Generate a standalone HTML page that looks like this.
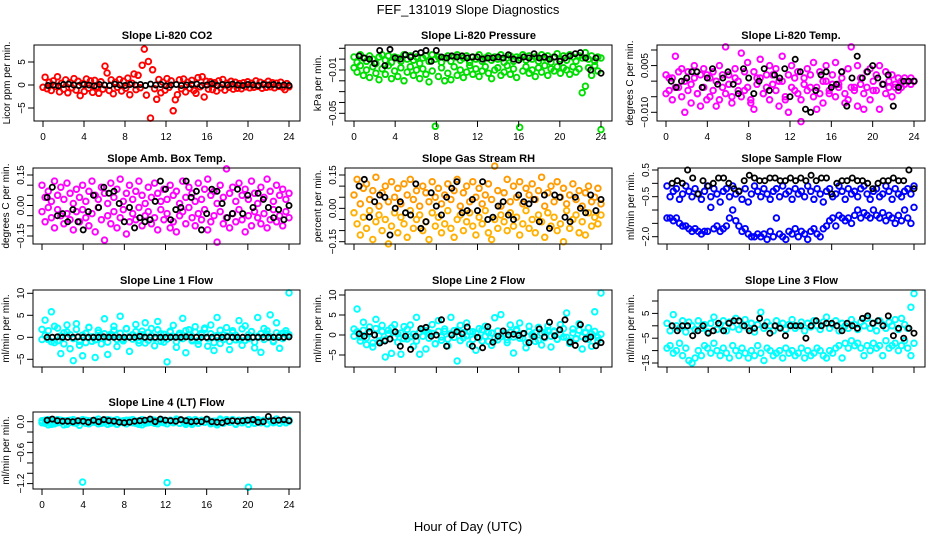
<!DOCTYPE html>
<html><head><meta charset="utf-8"><style>
html,body{margin:0;padding:0;background:#fff;}
svg{display:block;font-family:"Liberation Sans",sans-serif;}
</style></head><body>
<svg id="fig" width="936" height="540" viewBox="0 0 936 540">
<text x="468" y="14" text-anchor="middle" font-size="13">FEF_131019  Slope Diagnostics</text>
<text x="468" y="531" text-anchor="middle" font-size="13">Hour of Day (UTC)</text>
</svg>
<script>
// ---- data (hour-of-day series; colored = per-cycle slopes, black = reference) ----
const xTicks=[0,4,8,12,16,20,24];
const p1c=[-0.5,1.7,-0.8,0.6,-1.2,0.9,-0.3,1.8,-1.5,0.4,-0.9,1.1,-1.7,0.5,-0.6,1.4,-1.1,0.8,-2.3,0.3,-1.4,1.3,-0.7,0.9,-1.6,1.0,-0.4,-1.8,0.7,-0.9,4.1,2.6,-1.2,1.1,-1.9,0.6,-0.5,1.2,-1.3,0.8,-0.7,1.5,-2.1,0.4,2.4,-1.0,2.1,-0.6,4.3,7.8,-2.2,5.1,-7.2,3.3,-0.8,-3.1,1.2,-1.7,0.6,-1.1,1.4,-0.5,0.9,-5.6,-3.2,-2.1,1.1,-0.8,1.3,-1.5,0.6,-0.7,1.0,-1.2,-1.8,1.6,-0.4,1.8,-2.6,0.8,-0.9,0.7,-1.0,0.5,-1.3,0.9,-0.6,1.2,-1.1,0.4,-0.5,0.8,-0.9,0.6,-0.7,0.3,-0.8,0.5,-0.4,0.7,-0.6,0.4,-0.5,0.9,-0.3,0.6,-0.7,0.3,-0.5,0.8,-0.4,0.5,-0.6,0.4,-0.3,0.6,-0.5,-1.0,0.3,-0.4];
const p1k=[-0.1,0,-0.2,0.1,0.2,0,-0.1,0.1,0,-0.2,0.1,0,-0.1,0.2,0,-0.1,0.1,0,0.1,-0.1,0.2,0,0.1,-0.2,0,0.1,-0.1,0,0.1,0.2,-0.1,0,0.3,-0.1,0.1,0,0.2,0,-0.1,0.1,0,-0.1,0.1,0,0.1,-0.1,0,-0.1];
const p2a=[0.002,-0.003,0.004,0.001,-0.002,0.003,0.000,-0.004,0.002,0.004,-0.001,0.003,-0.003,0.002,0.001,-0.002,0.004,0.000,0.003,-0.001,0.002,-0.004,0.001,0.003,-0.002,0.004,0.000,0.002,-0.003,0.001,0.003,-0.002,0.002,0.004,-0.001,0.001,0.003,-0.003,0.002,0.000,0.004,-0.002,0.001,0.003,-0.001,0.002,0.000,0.004,-0.003,0.001,0.003,-0.002,0.002,0.001,0.004,-0.001,0.003,0.000,0.002,-0.002,0.004,0.001,0.003,-0.003,0.002,0.005,0.000,0.003,-0.001,0.004,0.002,-0.002,0.003,0.001,0.006,0.000,0.003,-0.002,0.002,0.001];
const p2b=[-0.008,-0.012,-0.006,-0.015,-0.010,-0.017,-0.007,-0.013,-0.019,-0.009,-0.014,-0.006,-0.018,-0.011,-0.016,-0.008,-0.020,-0.012,-0.007,-0.015,-0.010,-0.018,-0.009,-0.014,-0.021,-0.011,-0.062,-0.016,-0.008,-0.020,-0.013,-0.019,-0.007,-0.015,-0.010,-0.017,-0.012,-0.006,-0.014,-0.009,-0.016,-0.011,-0.007,-0.013,-0.018,-0.010,-0.008,-0.015,-0.012,-0.006,-0.014,-0.009,-0.017,-0.063,-0.011,-0.007,-0.013,-0.010,-0.016,-0.008,-0.012,-0.006,-0.015,-0.009,-0.011,-0.007,-0.013,-0.008,-0.010,-0.014,-0.007,-0.012,-0.009,-0.031,-0.025,-0.008,-0.015,-0.006,-0.011,-0.065];
const p2k=[0.003,0.001,0.000,-0.004,0.008,-0.006,0.009,0.001,0.000,0.004,0.002,0.005,0.006,0.008,-0.002,0.008,0.002,0.001,0.003,0.002,0.003,0.001,0.002,0.002,0.000,0.001,0.001,0.002,0.001,0.004,0.000,-0.001,0.002,0.001,0.005,0.001,0.002,0.000,0.002,-0.002,0.001,0.003,0.005,0.006,0.001,-0.010,0.001,-0.013];
const p3a=[0.002,-0.003,0.001,0.008,-0.002,0.004,-0.010,0.003,-0.001,0.005,-0.004,0.002,0.004,-0.006,0.001,0.003,-0.008,0.005,-0.002,0.011,0.002,-0.005,0.004,0.000,0.009,-0.003,0.006,-0.007,0.003,0.001,0.007,-0.004,0.002,0.005,-0.001,0.004,0.000,0.008,-0.006,0.002,0.005,-0.003,0.003,-0.013,0.001,0.004,-0.002,0.006,-0.009,0.003,0.000,0.005,-0.004,0.002,0.006,-0.001,0.003,-0.007,0.004,0.011,-0.002,0.005,0.001,-0.009,0.003,0.004,-0.003,0.002,0.005,-0.001,0.003,0.000,0.002,-0.002,0.001,0.000,0.001,0.000,0.001,0.000];
const p3b=[-0.004,0.001,-0.006,-0.002,0.003,-0.005,0.000,-0.003,-0.007,0.001,-0.004,-0.008,-0.002,0.002,-0.005,-0.003,0.000,-0.006,0.002,-0.004,-0.001,-0.007,0.001,-0.003,-0.005,0.003,-0.002,-0.006,-0.009,-0.001,0.001,-0.004,-0.002,-0.006,0.002,-0.003,-0.008,0.000,-0.005,-0.010,-0.002,0.001,-0.004,-0.006,-0.001,-0.003,0.002,-0.005,-0.002,-0.004,-0.007,0.000,-0.003,-0.001,-0.005,-0.002,0.001,-0.004,-0.006,-0.002,-0.003,-0.008,-0.001,-0.004,-0.002,-0.006,0.000,-0.003,-0.009,-0.001,-0.004,-0.002,-0.005,-0.001,-0.003,-0.002,-0.001,0.000,-0.001,0.000];
const p3k=[0.000,-0.002,0.000,0.001,0.003,0.003,-0.002,0.001,0.004,-0.001,0.001,0.003,-0.001,-0.004,0.004,0.001,-0.004,0.000,0.004,-0.003,0.002,0.001,0.004,-0.005,0.007,0.003,-0.009,-0.010,-0.003,0.002,0.003,-0.002,-0.001,0.003,-0.008,0.001,0.008,0.001,0.003,0.005,0.001,-0.001,0.002,-0.008,-0.002,0.000,0.000,0.000];
const p4a=[0.10,0.04,0.07,0.02,0.12,0.05,0.09,0.03,0.11,0.06,0.01,0.08,0.04,0.10,0.02,0.07,0.12,0.05,0.03,0.09,0.06,0.01,0.11,0.04,0.08,0.13,0.02,0.06,0.10,0.03,0.07,0.12,0.05,0.01,0.09,0.04,0.11,0.06,0.02,0.08,0.03,0.10,0.05,0.07,0.01,0.12,0.04,0.09,0.06,0.02,0.11,0.03,0.08,0.13,0.05,0.07,0.01,0.10,0.04,0.18,0.06,0.09,0.02,0.11,0.05,0.08,0.03,0.12,0.06,0.01,0.09,0.04,0.13,0.07,0.02,0.10,0.05,0.08,0.03,0.06];
const p4b=[-0.03,-0.08,-0.01,-0.06,-0.11,-0.02,-0.05,-0.09,-0.04,-0.07,-0.12,-0.03,-0.08,-0.02,-0.06,-0.10,-0.04,-0.13,-0.01,-0.07,-0.17,-0.05,-0.09,-0.03,-0.11,-0.06,-0.02,-0.14,-0.08,-0.04,-0.07,-0.01,-0.10,-0.05,-0.03,-0.09,-0.06,-0.12,-0.02,-0.07,-0.04,-0.11,-0.08,-0.13,-0.05,-0.03,-0.09,-0.01,-0.06,-0.10,-0.04,-0.07,-0.02,-0.12,-0.08,-0.05,-0.18,-0.03,-0.09,-0.06,-0.11,-0.04,-0.08,-0.02,-0.07,-0.13,-0.05,-0.10,-0.03,-0.06,-0.09,-0.04,-0.11,-0.07,-0.02,-0.08,-0.05,-0.10,-0.03,-0.06];
const p4k=[0.04,0.09,-0.05,-0.04,-0.08,-0.02,-0.08,-0.12,-0.03,0.05,-0.01,0.09,0.06,0.07,0.01,-0.08,-0.01,-0.11,-0.06,-0.08,-0.07,0.02,0.12,0.08,-0.07,-0.02,-0.01,0.12,0.04,0.07,-0.12,-0.04,0.08,0.07,0.01,-0.06,-0.04,0.08,-0.04,0.05,-0.01,0.06,0.03,-0.01,-0.06,-0.02,-0.07,0.00];
const p5a=[0.06,0.13,0.02,0.09,0.11,0.04,0.08,0.14,0.01,0.07,0.10,0.03,0.12,0.05,0.09,0.02,0.11,0.06,0.13,0.04,0.08,0.01,0.10,0.07,0.03,0.12,0.05,0.09,0.02,0.06,0.11,0.04,0.08,0.13,0.01,0.07,0.10,0.03,0.12,0.05,0.09,0.02,0.06,0.11,0.04,0.19,0.08,0.01,0.07,0.13,0.03,0.10,0.05,0.12,0.02,0.09,0.06,0.11,0.04,0.08,0.14,0.01,0.07,0.10,0.03,0.12,0.05,0.09,0.02,0.06,0.11,0.04,0.08,0.01,0.07,0.10,0.03,0.05,0.09,0.02];
const p5b=[-0.02,-0.07,-0.12,-0.04,-0.09,-0.01,-0.14,-0.06,-0.03,-0.10,-0.05,-0.16,-0.08,-0.02,-0.11,-0.04,-0.07,-0.13,-0.01,-0.09,-0.05,-0.03,-0.10,-0.06,-0.14,-0.02,-0.08,-0.04,-0.11,-0.07,-0.01,-0.09,-0.13,-0.05,-0.03,-0.10,-0.06,-0.02,-0.08,-0.12,-0.04,-0.07,-0.01,-0.11,-0.14,-0.05,-0.09,-0.03,-0.06,-0.10,-0.02,-0.08,-0.04,-0.12,-0.07,-0.01,-0.09,-0.05,-0.11,-0.03,-0.06,-0.13,-0.02,-0.08,-0.04,-0.10,-0.07,-0.15,-0.01,-0.09,-0.05,-0.03,-0.11,-0.06,-0.12,-0.02,-0.08,-0.04,-0.07,-0.03];
const p5k=[0.10,0.13,-0.04,0.03,0.06,0.05,-0.12,0.00,0.03,-0.02,-0.03,0.11,-0.09,-0.06,0.07,0.01,-0.03,0.05,0.09,0.12,-0.02,-0.01,0.04,-0.01,0.12,-0.05,-0.04,0.01,0.03,-0.03,-0.05,0.06,0.03,0.02,0.04,-0.06,0.06,-0.09,0.06,0.05,-0.04,-0.06,0.05,0.00,-0.02,0.06,-0.01,0.04];
const p6a=[-0.1,-0.5,-0.3,-0.2,-0.6,-0.4,-0.1,-0.3,-0.5,-0.2,-0.4,-0.6,-0.3,-0.1,-0.5,-0.2,-0.4,-0.7,-0.3,-0.2,-0.5,-0.1,-0.4,-0.3,-0.6,-0.2,-0.7,-0.4,-0.1,-0.3,-0.5,-0.2,-0.4,-0.6,-0.3,-0.2,-0.5,-0.1,-0.4,-0.3,-0.6,-0.2,-0.4,-0.3,-0.5,-0.1,-0.3,-0.6,-0.2,-0.4,-0.7,-0.3,-0.2,-0.5,-0.4,-0.1,-0.3,-0.6,-0.2,-0.4,-0.3,-0.5,-0.2,-0.1,-0.4,-0.6,-0.3,-0.2,-0.5,-0.4,-0.1,-0.3,-0.6,-0.2,-0.4,-0.5,-0.3,-0.2,-0.4,-0.1];
const p6b=[-1.3,-1.3,-1.4,-1.3,-1.5,-1.6,-1.6,-1.7,-1.8,-1.7,-1.8,-1.9,-1.8,-1.8,-0.9,-1.7,-1.6,-1.8,-1.7,-1.6,-1.3,-1.0,-1.4,-1.6,-1.8,-1.7,-1.9,-2.0,-2.0,-1.9,-2.0,-1.9,-2.1,-1.8,-2.0,-1.3,-1.9,-2.0,-2.1,-1.8,-1.9,-1.7,-2.0,-1.8,-1.9,-2.1,-1.8,-1.7,-1.9,-2.0,-1.7,-1.6,-1.4,-1.3,-1.6,-1.2,-1.3,-1.4,-1.3,-1.5,-1.2,-1.0,-1.3,-1.1,-1.2,-1.3,-1.0,-1.2,-1.3,-1.1,-1.4,-1.2,-1.3,-1.5,-1.2,-1.4,-1.0,-1.3,-1.5,-0.9];
const p6k=[0.0,0.1,0.0,0.5,0.2,-0.4,0.1,-0.1,0.0,0.2,0.2,0.0,-0.2,-0.3,0.1,0.3,0.2,0.1,0.1,0.2,0.2,0.1,0.1,0.2,0.1,0.2,0.1,0.3,0.1,0.2,0.2,-0.4,0.0,0.1,0.1,0.2,0.1,0.1,0.0,-0.2,0.0,0.1,0.1,0.2,0.1,0.1,0.5,-0.2];
const p7a=[1.8,3.9,-0.5,5.8,-1.2,2.1,-3.7,1.0,2.8,-2.6,-5.3,3.1,-1.8,-4.2,0.9,2.3,-0.9,-4.6,1.6,-1.5,4.2,-3.9,0.7,2.5,-2.1,4.8,-0.4,1.9,-3.2,0.6,2.9,-1.3,1.4,3.3,-0.7,2.0,-1.9,3.6,0.8,-1.1,-5.6,1.2,2.7,-2.3,0.5,4.3,-3.5,1.7,-0.8,2.4,-1.6,0.9,1.8,-2.0,2.8,-3.0,4.5,-1.4,0.6,2.2,-2.8,1.5,-0.6,3.8,-1.8,2.6,-0.3,1.3,-2.4,4.5,-3.4,2.0,0.7,5.1,-1.0,3.3,-2.5,0.9,1.5,10.1];
const p7b=[-0.5,0.4,1.5,-1.0,2.5,-0.8,0.3,-1.5,1.2,0.6,-0.3,1.8,-0.9,0.5,-1.2,2.2,0.1,-0.6,1.0,-0.2,0.8,-1.1,0.3,1.6,-0.5,0.9,-0.8,2.0,0.2,-0.4,1.3,-0.7,0.6,-1.3,1.1,0.4,-0.2,1.7,-0.9,0.7,-0.4,1.4,0.2,-1.0,0.9,-0.3,1.5,0.5,-0.6,1.2,-0.8,0.6,2.1,-0.2,0.8,-1.2,0.4,1.6,-0.5,0.3,-0.9,1.1,0.5,-0.4,1.9,-0.7,0.6,1.3,-1.1,0.2,0.8,-0.5,1.5,0.1,-0.8,1.0,0.4,-0.3,0.9,0.6];
const p7k=[0,0,0.1,0,0,0,0.1,0,0,0,0,0.1,0,0,0,0,0,0,0.2,0,0,0,0,0,0,0,0,0.1,0,0,0,0,0,0,0,0.1,0,0,0,0,0,0,0,0,0,0,0,0.1];
const p8a=[1.5,6.5,-0.5,3.2,-2.4,2.0,-3.0,3.9,-1.5,2.4,-5.5,1.2,-4.6,2.6,0.3,-4.8,2.1,-1.0,2.5,-2.8,4.4,-4.8,1.3,-3.5,0.6,2.6,-2.2,3.6,-1.3,0.9,-2.7,4.4,1.1,-6.5,2.4,-0.7,3.0,-2.3,0.8,-3.8,1.6,-1.5,2.2,0.6,-2.6,4.3,-1.2,5.1,0.4,-1.9,2.5,-4.5,1.1,3.0,-0.8,-3.2,2.2,0.2,-1.6,1.9,-2.5,0.7,2.2,-3.0,1.0,-1.1,2.6,-0.5,5.5,-2.1,1.5,-1.0,2.8,-3.5,0.5,1.8,-2.8,5.8,-1.4,10.5];
const p8b=[-0.3,0.8,-1.5,1.2,-0.7,0.4,-2.0,1.6,-0.2,0.9,-1.2,0.3,1.8,-0.6,-1.8,0.5,-0.9,1.4,-0.4,0.2,-1.5,0.7,-0.3,1.1,-0.8,0.4,-2.2,0.9,-0.5,1.5,-1.0,0.3,-0.6,1.2,-1.4,0.6,-0.2,0.8,-1.1,0.4,-0.7,1.3,-0.3,-1.6,0.5,-0.9,1.0,-0.4,0.2,-1.2,0.7,-0.5,1.4,-0.8,0.3,-1.9,0.9,-0.2,0.6,-1.3,0.4,-0.7,1.1,-0.3,0.8,-1.0,0.2,1.6,-0.6,-1.5,0.5,-0.9,1.2,-0.4,0.7,-1.1,0.3,0.9,-0.6,0.2];
const p8k=[0.3,-0.3,0.8,0.0,-2.0,-1.5,-1.0,0.8,-2.8,-0.3,-3.6,-0.3,1.6,1.9,-0.3,0.0,3.8,-2.8,0.0,0.8,0.3,2.0,-2.8,-0.6,-3.2,2.1,-1.8,-0.3,1.0,0.0,0.2,-0.1,0.4,-1.9,-0.4,1.5,-0.5,3.2,-0.2,1.3,3.8,-1.8,-2.6,2.6,-1.0,-0.5,-2.7,-1.9];
const p9a=[1.0,-2.0,4.5,0.0,-1.0,2.0,-2.5,1.5,0.0,-1.5,2.0,-1.0,0.5,-2.5,1.0,3.5,-1.5,0.5,2.0,-2.0,1.5,-0.5,3.0,-1.5,0.0,2.5,-1.0,1.0,-2.5,0.5,5.5,-1.0,1.5,0.0,-2.0,2.0,-0.5,1.0,-1.5,0.5,2.5,-1.0,0.0,1.5,-2.0,1.0,-0.5,2.0,0.0,-1.5,1.5,3.5,-1.0,0.5,2.0,-2.0,1.0,0.0,-1.0,2.5,0.5,-1.5,1.5,0.0,3.0,-1.0,1.0,-2.0,2.0,0.5,-1.0,1.5,0.0,2.5,-1.5,3.0,0.5,-1.0,7.5,13.0];
const p9b=[-9,-8,-11,-10,-7,-12,-9,-14,-15,-13,-10,-12,-8,-9,-11,-7,-10,-12,-9,-11,-13,-8,-10,-12,-9,-11,-13,-10,-12,-8,-11,-14,-9,-10,-12,-11,-10,-13,-9,-11,-10,-12,-11,-9,-13,-10,-12,-11,-9,-10,-12,-13,-10,-11,-9,-8,-13,-7,-9,-6,-8,-7,-9,-12,-8,-10,-7,-9,-8,-12,-6,-9,-8,-7,-10,-8,-6,-9,-12,-7];
const p9k=[0,-2,0,0,-4,-2,0,-3,-2,1,-2,1,2,2,0,-2,-1,3,0,-3,0,-1,-4,0,0,0,-5,0,2,0,1,1,0,-2,1,0,-1,3,4,1,2,0,4,-4,-1,-5,-1,-3];
const p10a=[0.02,-0.03,0.04,-0.05,0.01,-0.02,0.03,-0.06,0.02,-0.01,0.04,-0.03,0.01,-1.17,0.03,-0.04,0.02,-0.01,0.05,-0.03,0.01,-0.05,0.03,-0.02,0.04,-0.01,0.02,-0.04,0.03,-0.02,0.01,-0.05,0.04,-0.03,0.02,-0.01,0.03,-0.04,0.01,-0.02,-1.18,0.03,-0.01,0.04,-0.03,0.02,-0.05,0.01,-0.02,0.04,-0.03,0.02,-0.01,0.03,-0.04,0.01,-0.02,0.05,-0.03,0.02,-0.01,0.04,-0.05,0.02,-0.02,0.03,-1.27,0.01,-0.03,0.04,-0.02,0.02,-0.04,0.03,-0.01,0.05,-0.03,0.02,-0.02,0.01];
const p10b=[-0.02,0.03,-0.06,0.01,-0.04,0.04,-0.01,0.02,-0.05,0.03,-0.02,0.01,-0.07,0.04,-0.03,0.02,-0.01,0.03,-0.04,0.01,-0.02,0.04,-0.03,0.02,-0.05,0.01,-0.02,0.03,-0.01,0.04,-0.03,0.02,-0.06,0.01,-0.02,0.04,-0.03,0.02,-0.01,0.03,-0.04,0.01,-0.02,0.05,-0.03,0.02,-0.01,0.04,-0.05,0.02,-0.03,0.03,-0.01,0.04,-0.02,0.01,-0.06,0.03,-0.02,0.04,-0.01,0.02,-0.04,0.03,-0.02,0.01,-0.05,0.04,-0.03,0.02,-0.01,0.03,-0.04,0.02,-0.02,0.05,-0.03,0.01,-0.02,0.03];
const p10k=[0.03,0.05,0.02,0.01,0.01,0.00,0.02,0.01,-0.01,0.03,0.00,0.04,0.02,0.01,-0.01,-0.02,-0.01,0.01,0.02,0.03,0.05,0.00,0.05,0.03,0.02,0.01,0.04,0.02,0.00,0.01,0.00,0.05,0.00,-0.01,-0.02,0.01,0.02,0.01,0.02,0.03,0.04,-0.01,0.00,0.10,0.02,0.03,0.04,0.02];
const yTicks1=[-5,0,5], yLab1=['−5','0','5'];
const yTicks2=[0.01,0,-0.01,-0.02,-0.03,-0.04,-0.05], yLab2=['','','−0.01','','','','−0.05'];
const yTicks3=[0.01,0.005,0,-0.005,-0.01], yLab3=['','0.005','','','−0.010'];
const yTicks4=[0.15,0.1,0.05,0,-0.05,-0.1,-0.15], yLab4=['0.15','','','0.00','','','−0.15'];
const yTicks6=[0.5,0,-0.5,-1,-1.5,-2], yLab6=['0.5','','−0.5','','','−2.0'];
const yTicks7=[10,5,0,-5], yLab7=['10','5','0','−5'];
const yTicks9=[10,5,0,-5,-10,-15], yLab9=['','5','','−5','','−15'];
const yTicks10=[0,-0.2,-0.4,-0.6,-0.8,-1.0,-1.2], yLab10=['0.0','','','−0.6','','','−1.2'];

// ---- layout ----
const panels=[
 {id:'co2',title:'Slope Li-820 CO2',yt:'Licor ppm per min.',L:34,R:300,T:45,B:121,v1:5,p1:62,v2:-5,p2:108,ticks:yTicks1,labs:yLab1,xl:true,series:[[p1c,'#ff0000']],blk:p1k},
 {id:'pressure',title:'Slope Li-820 Pressure',yt:'kPa per min.',L:345,R:612,T:45,B:121,v1:0.01,p1:48.3,v2:-0.05,p2:113.3,ticks:yTicks2,labs:yLab2,xl:true,series:[[p2a,'#00dd00'],[p2b,'#00dd00']],blk:p2k},
 {id:'temp',title:'Slope Li-820 Temp.',yt:'degrees C per min.',L:657,R:925,T:45,B:121,v1:0.01,p1:50,v2:-0.01,p2:112.3,ticks:yTicks3,labs:yLab3,xl:true,series:[[p3a,'#ff00ff'],[p3b,'#ff00ff']],blk:p3k},
 {id:'amb-box-temp',title:'Slope Amb. Box Temp.',yt:'degrees C per min.',L:33,R:300,T:168,B:244,v1:0.15,p1:175,v2:-0.15,p2:236,ticks:yTicks4,labs:yLab4,xl:false,series:[[p4a,'#ff00ff'],[p4b,'#ff00ff']],blk:p4k},
 {id:'gas-rh',title:'Slope Gas Stream RH',yt:'percent per min.',L:345,R:612,T:168,B:244,v1:0.15,p1:175,v2:-0.15,p2:241.7,ticks:yTicks4,labs:yLab4,xl:false,series:[[p5a,'#ff9a00'],[p5b,'#ffb000']],blk:p5k},
 {id:'sample-flow',title:'Slope Sample Flow',yt:'ml/min per min.',L:658,R:925,T:168,B:244,v1:0.5,p1:170,v2:-2,p2:236.7,ticks:yTicks6,labs:yLab6,xl:false,series:[[p6a,'#0000ff'],[p6b,'#0000ff']],blk:p6k},
 {id:'line1-flow',title:'Slope Line 1 Flow',yt:'ml/min per min.',L:33,R:300,T:290,B:367,v1:10,p1:293.3,v2:-5,p2:359.3,ticks:yTicks7,labs:yLab7,xl:false,series:[[p7a,'#00ffff'],[p7b,'#00ffff']],blk:p7k},
 {id:'line2-flow',title:'Slope Line 2 Flow',yt:'ml/min per min.',L:345,R:612,T:290,B:367,v1:10,p1:295,v2:-5,p2:355,ticks:yTicks7,labs:yLab7,xl:false,series:[[p8a,'#00ffff'],[p8b,'#00ffff']],blk:p8k},
 {id:'line3-flow',title:'Slope Line 3 Flow',yt:'ml/min per min.',L:658,R:925,T:290,B:367,v1:10,p1:301,v2:-15,p2:363,ticks:yTicks9,labs:yLab9,xl:false,series:[[p9a,'#00ffff'],[p9b,'#00ffff']],blk:p9k},
 {id:'line4-flow',title:'Slope Line 4 (LT) Flow',yt:'ml/min per min.',L:33,R:300,T:412,B:489,v1:0,p1:421.7,v2:-1.2,p2:483.6,ticks:yTicks10,labs:yLab10,xl:true,series:[[p10a,'#00ffff'],[p10b,'#00ffff']],blk:p10k}
];
const NS='http://www.w3.org/2000/svg';
const svg=document.getElementById('fig');
function mk(tag,attrs,parent){const e=document.createElementNS(NS,tag);for(const k in attrs)e.setAttribute(k,attrs[k]);parent.appendChild(e);return e;}
panels.forEach(p=>{
 const g=mk('g',{},svg);
 
 
 const x0=p.L+9, x1=p.R-11;
 const xs=h=>x0+(h/24)*(x1-x0);
 const ys=v=>p.p1+(v-p.v1)*(p.p2-p.p1)/(p.v2-p.v1);
 const t=mk('text',{x:(p.L+p.R)/2,y:p.T-6,'text-anchor':'middle','font-size':'11','font-weight':'bold'},g);
 t.textContent=p.title;
 
 
 const yt=mk('text',{transform:`translate(${p.L-24},${(p.T+p.B)/2}) rotate(-90)`,'text-anchor':'middle','font-size':'10'},g);
 yt.textContent=p.yt;
 
 
 p.series.forEach(([arr,col])=>{
  const n=arr.length;
  arr.forEach((v,i)=>{
   const c=mk('circle',{cx:xs(i*24/(n-1)).toFixed(1),cy:ys(v).toFixed(1),r:2.8,fill:'none',stroke:col,'stroke-width':1.9},g);
   
   
  });
 });
 p.blk.forEach((v,i)=>{
  const c=mk('circle',{cx:xs((i+1)*0.5).toFixed(1),cy:ys(v).toFixed(1),r:2.6,fill:'none',stroke:'#000','stroke-width':1.8},g);
  
  
 });
 const b=mk('rect',{x:p.L,y:p.T,width:p.R-p.L,height:p.B-p.T,fill:'none',stroke:'#000','stroke-width':1},g);
 
 
 xTicks.forEach(h=>{
  const tk=mk('line',{x1:xs(h),x2:xs(h),y1:p.B,y2:p.B+6,stroke:'#000'},g);
  
  
  if(p.xl){
   const l=mk('text',{x:xs(h),y:p.B+19,'text-anchor':'middle','font-size':'10'},g);
   l.textContent=h;
   
   
  }
 });
 p.ticks.forEach((v,i)=>{
  const y=ys(v);
  const tk=mk('line',{x1:p.L-6,x2:p.L,y1:y,y2:y,stroke:'#000'},g);
  
  
  if(p.labs[i]){
   const l=mk('text',{transform:`translate(${p.L-9},${y}) rotate(-90)`,'text-anchor':'middle','font-size':'10'},g);
   l.textContent=p.labs[i];
   
   
  }
 });
});
</script>
</body></html>
